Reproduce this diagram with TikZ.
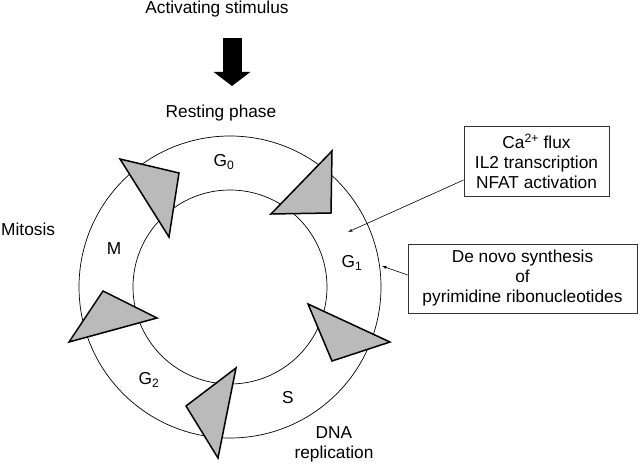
\documentclass[tikz,border=0pt]{standalone}
\usepackage{fontspec}
\setmainfont{Liberation Sans}
\usetikzlibrary{arrows,arrows.meta}
\tikzstyle{line} = [draw, -latex', line width=0.6pt]
\tikzstyle{ring} = [draw=black, line width=0.7pt]
\tikzstyle{wedge} = [draw=black, fill=black!27, line width=1.5pt, line join=miter]
\tikzstyle{label} = [inner sep=0pt, align=center]
\tikzstyle{infobox} = [rectangle, draw=black!80, line width=0.8pt, align=center, inner sep=0pt]
\tikzstyle{bigarrow} = [draw, line width=19pt, -{Triangle[width=36pt,length=14pt]}]
\begin{document}
\begin{tikzpicture}[x=1pt, y=-1pt, font=\fontsize{17.3}{20}\selectfont]
				\useasboundingbox (0,0) rectangle (640,465);
				% Cycle
				\coordinate (hub) at (230,287);
				\path [ring] (hub) circle[radius=151pt];
				\path [ring] (hub) circle[radius=97pt];
				\path [wedge] (120,159) -- (179,173) -- (169,237) -- cycle;
				\path [wedge] (332,151) -- (331,213) -- (271,214) -- cycle;
				\path [wedge] (308,304) -- (390,342) -- (332,361) -- cycle;
				\path [wedge] (236,368) -- (186,406) -- (218,458) -- cycle;
				\path [wedge] (103,291) -- (157,318) -- (69,342) -- cycle;
				% Place nodes
				\node [label] (stim) at (217,9) {Activating stimulus};
				\node [label] (rest) at (221,113) {Resting phase};
				\node [label, anchor=west] (mitosis) at (1,229) {Mitosis};
				\node [label] (g0) at (224,162) {G\textsubscript{0}};
				\node [label] (g1) at (352,263) {G\textsubscript{1}};
				\node [label] (g2) at (149,380) {G\textsubscript{2}};
				\node [label] (m) at (114,249) {M};
				\node [label] (s) at (288,398) {S};
				\node [label] (dna) at (334,444) {DNA\\replication};
				\node [infobox, minimum width=145pt, minimum height=70pt] (calcium) at (536.5,161) {Ca\textsuperscript{2+} flux\\IL2 transcription\\NFAT activation};
				\node [infobox, minimum width=229pt, minimum height=69pt] (denovo) at (522.5,278.5) {De novo synthesis\\of\\pyrimidine ribonucleotides};
				% Draw edges
				\coordinate (kick) at (232,38);
				\coordinate (kicktip) at (232,86);
				\path [bigarrow] (kick) -- (kicktip);
				\coordinate (g1top) at (348,232);
				\coordinate (g1rim) at (382,266);
				\path [line] ([yshift=-19pt]calcium.west) -- (g1top);
				\path [line] ([yshift=3.5pt]denovo.west) -- (g1rim);
\end{tikzpicture}
\end{document}
